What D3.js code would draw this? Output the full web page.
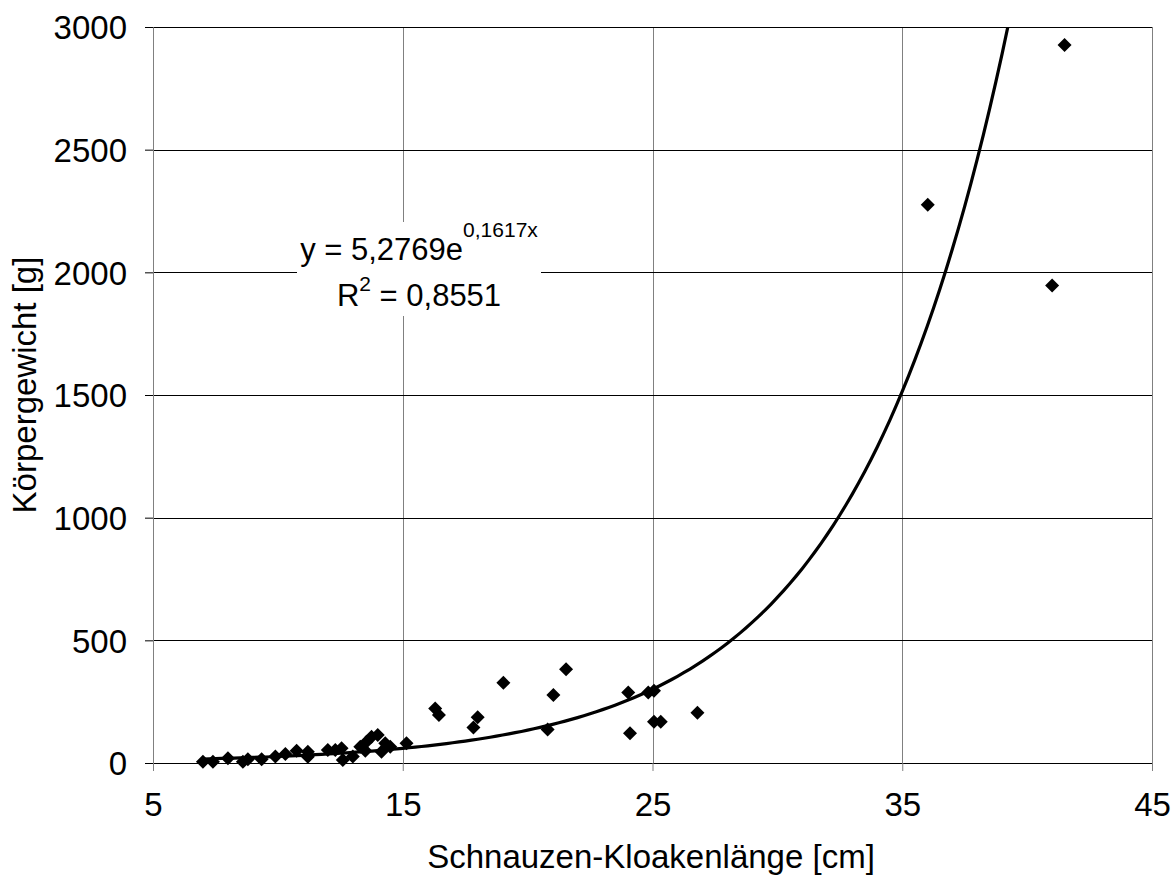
<!DOCTYPE html>
<html>
<head>
<meta charset="utf-8">
<script src="https://cdn.jsdelivr.net/npm/d3@7"></script>
<style>
  body { margin: 0; background: #fff; }
  text { font-family: "Liberation Sans", Arial, sans-serif; fill: #000; }
</style>
</head>
<body>
<script>
// snout-vent length [cm] and body weight [g]
const svl = [7.0, 7.4, 8.0, 8.6, 8.8, 9.35, 9.9, 10.3, 10.75, 11.2, 11.2, 12.0, 12.3, 12.55, 12.6,
  13.0, 13.3, 13.55, 13.75, 14.0, 14.15, 14.3, 14.5, 13.5, 15.15,
  16.3, 16.45, 17.83, 18.0, 19.03, 20.8, 21.03, 21.54, 24.03, 24.1, 24.83, 25.06, 25.06, 25.33, 26.8,
  36.02, 41.0, 41.5];
const weight = [5, 5, 19, 5, 15, 15, 27, 37, 50, 46, 25, 53, 53, 60, 12,
  26, 66, 87, 107, 114, 46, 80, 66, 50, 80,
  222, 196, 145, 186, 327, 137, 277, 382, 287, 121, 287, 295, 168, 168, 205,
  2275, 1946, 2927];

const xTicks = [5, 15, 25, 35, 45];
const yTicks = [0, 500, 1000, 1500, 2000, 2500, 3000];

// exponential trendline as printed on the chart
const trendA = 5.2769;
const trendB = 0.1617;
const trendR2 = '0,8551';

const svgWidth = 1172;
const svgHeight = 878;
const margin = {left: 153, right: 20, top: 27, bottom: 115};
const width = svgWidth - margin.left - margin.right;
const height = svgHeight - margin.top - margin.bottom;

const svg = d3.select('body')
  .append('svg')
  .attr('width', svgWidth)
  .attr('height', svgHeight);

const g = svg.append('g')
  .attr('transform', `translate(${margin.left}, ${margin.top})`);

const xScale = d3.scaleLinear().domain([5, 45]).range([0, width]);
const yScale = d3.scaleLinear().domain([0, 3000]).range([height, 0]);

// vertical gridlines (grey)
g.selectAll('.vgrid')
  .data(xTicks)
  .enter()
  .append('line')
  .attr('x1', d => Math.round(xScale(d)) + 0.5)
  .attr('x2', d => Math.round(xScale(d)) + 0.5)
  .attr('y1', 0)
  .attr('y2', height)
  .attr('stroke', '#808080');

// horizontal gridlines (black)
g.selectAll('.hgrid')
  .data(yTicks)
  .enter()
  .append('line')
  .attr('x1', 0)
  .attr('x2', width)
  .attr('y1', d => Math.round(yScale(d)) + 0.5)
  .attr('y2', d => Math.round(yScale(d)) + 0.5)
  .attr('stroke', '#000');

const fontSize = 33;
const eqSize = 31;

const xAxis = d3.axisBottom(xScale)
  .tickValues(xTicks)
  .tickSize(8)
  .tickPadding(22)
  .tickFormat(d3.format('d'));
const xGroup = g.append('g')
  .attr('transform', `translate(0, ${height})`)
  .call(xAxis);
xGroup.select('.domain').attr('stroke', '#000');
xGroup.selectAll('.tick line').attr('stroke', '#808080');
xGroup.selectAll('.tick text').attr('font-size', fontSize);

const yAxis = d3.axisLeft(yScale)
  .tickValues(yTicks)
  .tickSize(8)
  .tickPadding(18)
  .tickFormat(d3.format('d'));
const yGroup = g.append('g').call(yAxis);
yGroup.select('.domain').attr('stroke', '#808080');
yGroup.selectAll('.tick line').attr('stroke', '#000');
yGroup.selectAll('.tick text').attr('font-size', fontSize).attr('dy', '0.36em');
xGroup.raise();

svg.append('text')
  .attr('x', 651)
  .attr('y', 868)
  .attr('text-anchor', 'middle')
  .attr('font-size', fontSize)
  .text('Schnauzen-Kloakenlänge [cm]');

svg.append('text')
  .attr('transform', 'translate(36, 385) rotate(-90)')
  .attr('text-anchor', 'middle')
  .attr('font-size', fontSize)
  .text('Körpergewicht [g]');

// trendline, clipped to the plot area
g.append('clipPath')
  .attr('id', 'plot-clip')
  .append('rect')
  .attr('width', width)
  .attr('height', height);

const xMin = d3.min(svl);
const xMax = d3.max(svl);
const trendX = d3.range(xMin, xMax + 0.001, 0.25);
const line = d3.line()
  .x(d => xScale(d))
  .y(d => yScale(trendA * Math.exp(trendB * d)));

g.append('path')
  .datum(trendX)
  .attr('clip-path', 'url(#plot-clip)')
  .attr('d', line)
  .attr('fill', 'none')
  .attr('stroke', '#000')
  .attr('stroke-width', 3.2);

// data points as diamonds
const points = svl.map((x, i) => ({x: x, y: weight[i]}));
g.selectAll('.pt')
  .data(points)
  .enter()
  .append('path')
  .attr('d', 'M0,-7L7,0L0,7L-7,0Z')
  .attr('transform', d => `translate(${xScale(d.x)}, ${yScale(d.y)})`)
  .attr('fill', '#000');

// equation label with white background
const label = svg.append('g');
label.append('rect')
  .attr('x', 297)
  .attr('y', 222)
  .attr('width', 244)
  .attr('height', 94)
  .attr('fill', '#fff');
const eq = label.append('text')
  .attr('x', 419)
  .attr('y', 260)
  .attr('text-anchor', 'middle')
  .attr('font-size', eqSize);
eq.append('tspan').text(`y = ${String(trendA).replace('.', ',')}e`);
eq.append('tspan')
  .attr('font-size', 21)
  .attr('dy', -23)
  .text(`${String(trendB).replace('.', ',')}x`);

const r2 = label.append('text')
  .attr('x', 419)
  .attr('y', 306)
  .attr('text-anchor', 'middle')
  .attr('font-size', eqSize);
r2.append('tspan').text('R');
r2.append('tspan').attr('font-size', 21).attr('dy', -15).text('2');
r2.append('tspan').attr('dy', 15).text(` = ${trendR2}`);
</script>
</body>
</html>
